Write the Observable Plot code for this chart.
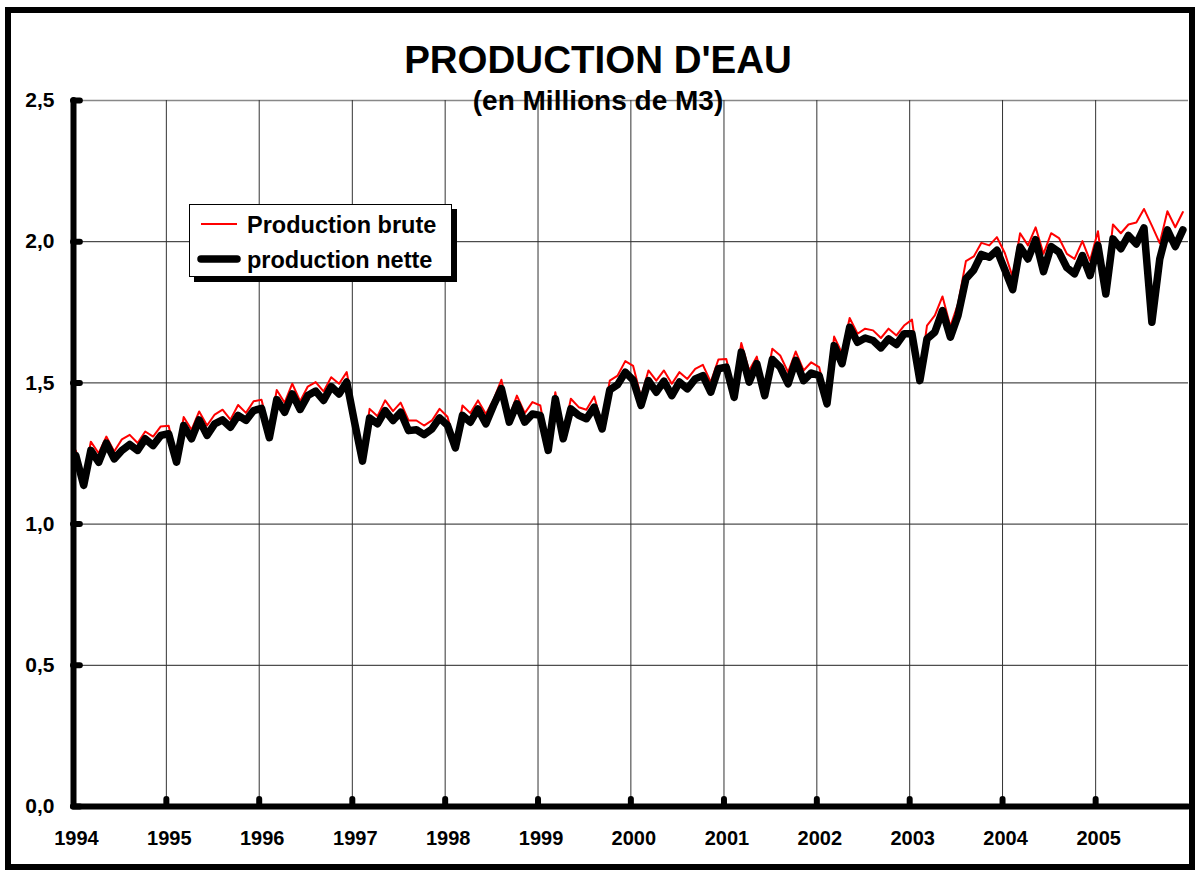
<!DOCTYPE html>
<html><head><meta charset="utf-8">
<script src="https://cdn.jsdelivr.net/npm/d3@7"></script>
<script src="https://cdn.jsdelivr.net/npm/@observablehq/plot@0.6"></script>
<style>
body{margin:0;background:#fff;font-family:"Liberation Sans",Arial,sans-serif;}
#wrap{position:relative;width:1196px;height:872px;overflow:hidden;background:#fff;}
#wrap svg{position:absolute;left:0;top:0;}
.frame{position:absolute;left:5px;top:7px;width:1190px;height:863px;border:6px solid #000;box-sizing:border-box;pointer-events:none;}
.title{position:absolute;left:0;width:1196px;text-align:center;font-weight:bold;color:#000;white-space:nowrap;}
#t1{top:40px;font-size:38.5px;line-height:40px;}
#t2{top:86px;font-size:28px;line-height:30px;}
#legend{position:absolute;left:189px;top:204px;width:263px;height:73px;border:1.5px solid #000;background:#fff;box-sizing:border-box;box-shadow:5px 5px 0 #000;}
#legend .sw{position:absolute;left:7px;width:44px;}
#legend .lab{position:absolute;left:57px;font-weight:bold;font-size:23.5px;line-height:26px;white-space:nowrap;}
</style>
</head><body>
<div id="wrap">
  <div id="chart"></div>
  <div class="title" id="t1">PRODUCTION D'EAU</div>
  <div class="title" id="t2">(en Millions de M3)</div>
  <div id="legend"></div>
  <div class="frame"></div>
</div>
<script>
// ---- Data (monthly values, Jan 1994 – Dec 2005, millions of m3) ----
const years = [1994,1995,1996,1997,1998,1999,2000,2001,2002,2003,2004,2005];
const yTicks = [0, 0.5, 1, 1.5, 2, 2.5];
const seriesNames = ["Production brute", "production nette"];

const brute = [
  1.261,1.15,1.292,1.251,1.310,1.257,1.300,1.316,1.287,1.328,1.310,1.346,
  1.348,1.23,1.379,1.334,1.399,1.349,1.388,1.405,1.370,1.422,1.394,1.435,
  1.440,1.33,1.475,1.430,1.497,1.435,1.487,1.503,1.470,1.520,1.497,1.538,
  1.39,1.23,1.408,1.382,1.438,1.400,1.430,1.367,1.367,1.349,1.367,1.408,
  1.38,1.28,1.420,1.393,1.438,1.390,1.44,1.511,1.38,1.455,1.393,1.432,
  1.420,1.27,1.467,1.31,1.444,1.414,1.405,1.452,1.35,1.508,1.526,1.577,
  1.56,1.45,1.544,1.508,1.544,1.497,1.538,1.514,1.550,1.564,1.503,1.583,
  1.585,1.47,1.641,1.544,1.593,1.47,1.621,1.597,1.538,1.611,1.544,1.573,
  1.556,1.44,1.664,1.605,1.730,1.674,1.692,1.686,1.659,1.692,1.668,1.703,
  1.724,1.52,1.703,1.739,1.806,1.70,1.780,1.931,1.948,1.996,1.987,2.016,
  1.96,1.874,2.030,1.987,2.051,1.957,2.030,2.013,1.957,1.939,2.002,1.933,
  2.037,1.83,2.061,2.030,2.061,2.068,2.116,2.057,1.995,2.108,2.051,2.105
];
const nette = [
  1.243,1.137,1.261,1.219,1.287,1.231,1.261,1.282,1.261,1.302,1.278,1.314,
  1.320,1.219,1.349,1.302,1.369,1.314,1.355,1.369,1.343,1.385,1.367,1.402,
  1.410,1.306,1.441,1.396,1.461,1.406,1.455,1.471,1.438,1.487,1.461,1.503,
  1.36,1.223,1.376,1.355,1.402,1.367,1.396,1.331,1.334,1.317,1.337,1.376,
  1.35,1.270,1.385,1.361,1.408,1.355,1.42,1.48,1.361,1.426,1.361,1.390,
  1.385,1.261,1.444,1.302,1.408,1.385,1.373,1.414,1.337,1.475,1.494,1.538,
  1.51,1.420,1.508,1.467,1.506,1.455,1.503,1.479,1.514,1.526,1.467,1.550,
  1.556,1.449,1.609,1.503,1.568,1.455,1.583,1.556,1.497,1.580,1.508,1.535,
  1.526,1.426,1.632,1.568,1.697,1.644,1.659,1.650,1.624,1.656,1.636,1.674,
  1.674,1.508,1.656,1.680,1.756,1.662,1.739,1.869,1.900,1.955,1.945,1.970,
  1.90,1.830,1.981,1.939,2.007,1.894,1.983,1.963,1.908,1.886,1.951,1.880,
  1.987,1.815,2.010,1.975,2.022,1.992,2.049,1.715,1.939,2.042,1.983,2.042
];

// ---- Table built from the arrays (one row per month, dated the 10th) ----
const months = years.flatMap(y => d3.range(12).map(m => new Date(Date.UTC(y, m, 10))));
const rows = months.map((d, i) => ({date: d, brute: brute[i], nette: nette[i]}));
const yearDates = years.map(y => new Date(Date.UTC(y, 0, 1)));
const start = yearDates[0];
const end = new Date(Date.UTC(years[years.length - 1] + 1, 0, 1));
const fmt = v => d3.format(".1f")(v).replace(".", ",");

const chart = Plot.plot({
  width: 1196,
  height: 872,
  marginLeft: 73,
  marginRight: 8,
  marginTop: 100,
  marginBottom: 66,
  x: {type: "utc", domain: [start, end]},
  y: {domain: [0, 2.5]},
  style: {fontFamily: "'Liberation Sans', Arial, sans-serif", background: "transparent", color: "#000"},
  marks: [
    Plot.ruleY(yTicks.filter(v => v > 0 && v < 2.5), {stroke: "#222", strokeWidth: 1}),
    Plot.ruleY(yTicks.filter(v => v === 2.5), {stroke: "#888", strokeWidth: 1.5}),
    Plot.ruleX(yearDates.slice(1), {y1: 0, y2: 2.5, stroke: "#333", strokeWidth: 1}),
    Plot.lineY(rows, {x: "date", y: "brute", stroke: "#ff0000", strokeWidth: 2}),
    Plot.lineY(rows, {x: "date", y: "nette", stroke: "#000", strokeWidth: 7.5, strokeLinejoin: "round", strokeLinecap: "round"}),
    Plot.ruleY([0], {stroke: "#000", strokeWidth: 6, strokeLinecap: "round"}),
    Plot.ruleX([start], {y1: 0, y2: 2.5, stroke: "#000", strokeWidth: 6, strokeLinecap: "round"}),
    Plot.ruleY(yTicks, {x1: start, x2: new Date(Date.UTC(years[0], 0, 28)), stroke: "#000", strokeWidth: 6, strokeLinecap: "round"}),
    Plot.ruleX(yearDates.slice(1), {y1: 0, y2: 0.025, stroke: "#000", strokeWidth: 6, strokeLinecap: "round"}),
    Plot.axisY(yTicks, {tickSize: 0, tickPadding: 19, tickFormat: fmt, fontSize: 21, fontWeight: "bold", fill: "#000"}),
    Plot.axisX(yearDates, {tickSize: 0, tickPadding: 24, tickFormat: d => d3.utcFormat("%Y")(d), fontSize: 20, fontWeight: "bold", fill: "#000", dx: 3})
  ]
});
document.getElementById("chart").appendChild(chart);

// ---- Legend ----
const legend = d3.select("#legend");
const entries = [
  {name: seriesNames[0], color: "#ff0000", w: 2, top: 19},
  {name: seriesNames[1], color: "#000", w: 7.5, top: 54}
];
entries.forEach(e => {
  const s = legend.append("svg").attr("class", "sw").attr("width", 44).attr("height", 10)
    .style("top", (e.top - 5) + "px");
  s.append("line").attr("x1", 4).attr("x2", 40).attr("y1", 5).attr("y2", 5)
    .attr("stroke", e.color).attr("stroke-width", e.w).attr("stroke-linecap", e.w > 3 ? "round" : "butt");
  legend.append("div").attr("class", "lab").style("top", (e.top - 12) + "px").text(e.name);
});
</script>
</body></html>
